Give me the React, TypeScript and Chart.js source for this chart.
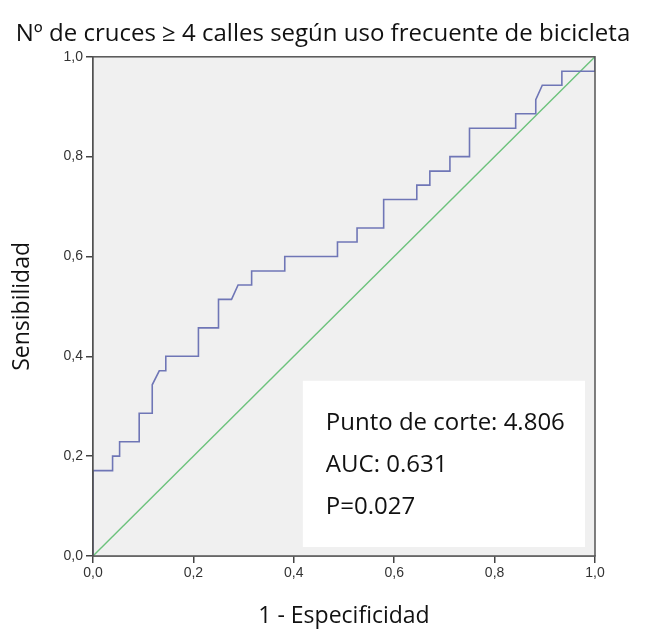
import React, { useEffect, useRef } from 'react';
import { Chart, registerables } from 'chart.js';

Chart.register(...registerables);

const TITLE = 'Nº de cruces ≥ 4 calles según uso frecuente de bicicleta';
const X_TITLE = '1 - Especificidad';
const Y_TITLE = 'Sensibilidad';

// ROC curve (1 - specificity, sensitivity)
const FPR = [0, 0, 0.039, 0.039, 0.053, 0.053, 0.092, 0.092, 0.118, 0.118, 0.132, 0.145, 0.145, 0.21, 0.21, 0.25, 0.25, 0.276, 0.289, 0.316, 0.316, 0.382, 0.382, 0.487, 0.487, 0.526, 0.526, 0.579, 0.579, 0.645, 0.645, 0.671, 0.671, 0.711, 0.711, 0.75, 0.75, 0.842, 0.842, 0.882, 0.882, 0.895, 0.934, 0.934, 1, 1];
const TPR = [0, 0.171, 0.171, 0.2, 0.2, 0.229, 0.229, 0.286, 0.286, 0.343, 0.371, 0.371, 0.4, 0.4, 0.457, 0.457, 0.514, 0.514, 0.543, 0.543, 0.571, 0.571, 0.6, 0.6, 0.629, 0.629, 0.657, 0.657, 0.714, 0.714, 0.743, 0.743, 0.771, 0.771, 0.8, 0.8, 0.857, 0.857, 0.886, 0.886, 0.914, 0.943, 0.943, 0.971, 0.971, 1];

// Reference diagonal
const REF_X = [0, 1];
const REF_Y = [0, 1];

const INFO_LINES = ['Punto de corte: 4.806', 'AUC: 0.631', 'P=0.027'];

const TEXT_FONT = 'Open Sans';
const TICK_FONT = 'Liberation Sans';

const fmt = (v: number) => Number(v).toFixed(1).replace('.', ',');

const framePlugin = {
  id: 'frameAndBox',
  beforeDatasetsDraw(chart: any) {
    const { ctx, chartArea } = chart;
    ctx.save();
    ctx.fillStyle = '#f0f0f0';
    ctx.fillRect(chartArea.left, chartArea.top, chartArea.right - chartArea.left, chartArea.bottom - chartArea.top);
    ctx.restore();
  },
  afterDatasetsDraw(chart: any) {
    const { ctx, chartArea, scales } = chart;
    const xs = scales.x;
    const ys = scales.y;
    const bx0 = xs.getPixelForValue(0.418);
    const bx1 = xs.getPixelForValue(0.98);
    const by0 = ys.getPixelForValue(0.351);
    const by1 = ys.getPixelForValue(0.018);
    ctx.save();
    ctx.fillStyle = '#ffffff';
    ctx.fillRect(bx0, by0, bx1 - bx0, by1 - by0);
    ctx.fillStyle = '#111111';
    ctx.font = `24px "${TEXT_FONT}"`;
    ctx.textBaseline = 'middle';
    ctx.textAlign = 'left';
    INFO_LINES.forEach((t, i) => {
      ctx.fillText(t, bx0 + 23, by0 + 42 + i * 42);
    });
    ctx.strokeStyle = '#555555';
    ctx.lineWidth = 1.5;
    ctx.strokeRect(chartArea.left, chartArea.top, chartArea.right - chartArea.left, chartArea.bottom - chartArea.top);
    ctx.restore();
  },
};

export default function App() {
  const ref = useRef<HTMLCanvasElement | null>(null);
  useEffect(() => {
    if (!ref.current) return;
    const chart = new Chart(ref.current, {
      type: 'line',
      data: {
        datasets: [
          {
            label: 'ROC',
            data: FPR.map((x, i) => ({ x, y: TPR[i] })),
            borderColor: '#6f76b6',
            borderWidth: 1.6,
            pointRadius: 0,
            tension: 0,
            fill: false,
          },
          {
            label: 'Referencia',
            data: REF_X.map((x, i) => ({ x, y: REF_Y[i] })),
            borderColor: '#6cc27c',
            borderWidth: 1.4,
            pointRadius: 0,
            tension: 0,
            fill: false,
          },
        ],
      },
      options: {
        animation: false,
        responsive: true,
        maintainAspectRatio: false,
        layout: { padding: 0 },
        plugins: {
          legend: { display: false },
          tooltip: { enabled: false },
          title: {
            display: true,
            text: TITLE,
            color: '#111111',
            font: { family: TEXT_FONT, size: 24, weight: 'normal' },
            padding: { top: 20, bottom: 8 },
          },
        },
        scales: {
          x: {
            type: 'linear',
            min: 0,
            max: 1,
            afterFit: (s: any) => { s.height = 76; },
            ticks: {
              stepSize: 0.2,
              callback: (v: any) => fmt(v),
              color: '#333333',
              font: { family: TICK_FONT, size: 14 },
              padding: 2,
              maxRotation: 0,
            },
            grid: { drawOnChartArea: false, drawTicks: true, tickLength: 7, color: '#444444', lineWidth: 1.5 },
            border: { display: true, color: '#444444', width: 1.5 },
            title: {
              display: true,
              text: X_TITLE,
              color: '#111111',
              font: { family: TEXT_FONT, size: 23 },
              padding: { bottom: 2, top: 0 },
            },
          },
          y: {
            type: 'linear',
            min: 0,
            max: 1,
            afterFit: (s: any) => { s.width = 93; },
            ticks: {
              stepSize: 0.2,
              callback: (v: any) => fmt(v),
              color: '#333333',
              font: { family: TICK_FONT, size: 14 },
              padding: 3,
            },
            grid: { drawOnChartArea: false, drawTicks: true, tickLength: 7, color: '#444444', lineWidth: 1.5 },
            border: { display: true, color: '#444444', width: 1.5 },
            title: {
              display: true,
              text: Y_TITLE,
              color: '#111111',
              font: { family: TEXT_FONT, size: 23 },
              padding: { top: 9, bottom: 0 },
            },
          },
          yRight: {
            type: 'linear',
            position: 'right',
            min: 0,
            max: 1,
            afterFit: (s: any) => { s.width = 51; },
            ticks: { display: false },
            grid: { display: false },
            border: { display: false },
          },
        },
      },
      plugins: [framePlugin],
    } as any);
    return () => chart.destroy();
  }, []);
  return (
    <div style={{ position: 'fixed', left: 0, top: 0, width: 646, height: 632, background: '#ffffff' }}>
      <canvas ref={ref} />
    </div>
  );
}
